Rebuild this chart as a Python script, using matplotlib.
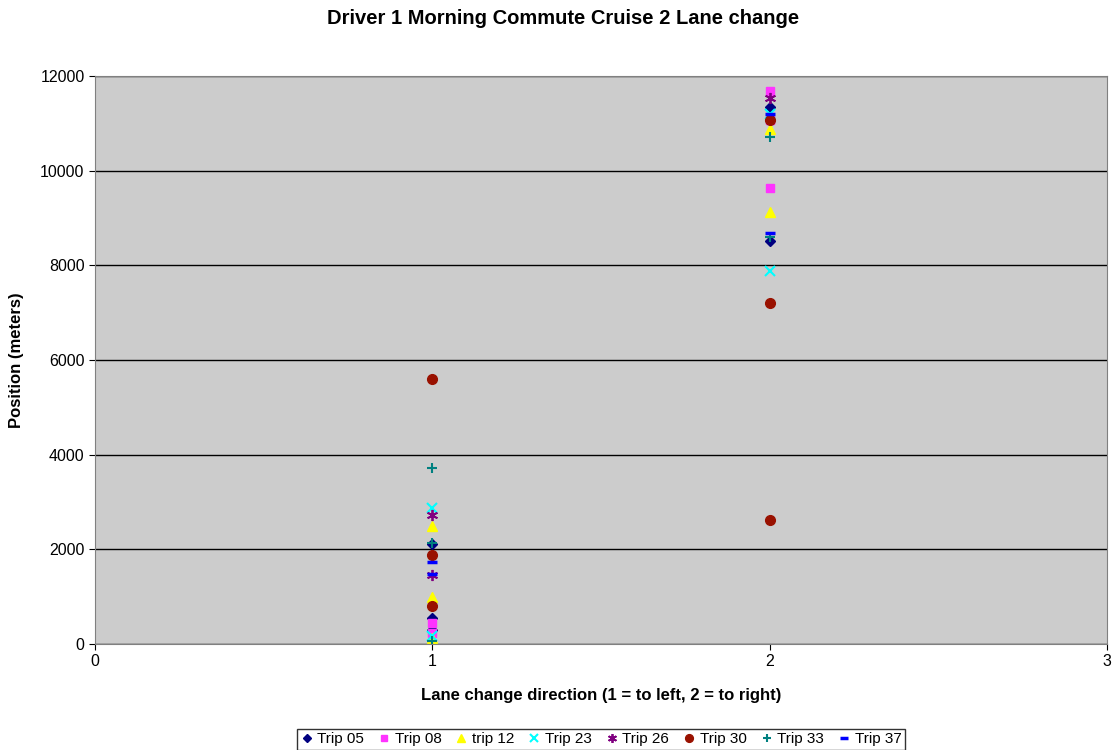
import matplotlib.pyplot as plt

plt.rcParams['font.family'] = ['Liberation Sans', 'DejaVu Sans']

# Dados (direção, posição em metros)
trip05_x = [1, 1, 1, 2, 2]
trip05_y = [2110, 540, 300, 11340, 8510]
trip08_x = [1, 1, 2, 2, 2]
trip08_y = [440, 240, 11680, 11080, 9630]
trip12_x = [1, 1, 1, 2, 2]
trip12_y = [2500, 1000, 130, 10870, 9130]
trip23_x = [1, 1, 2, 2]
trip23_y = [2870, 170, 11200, 7880]
trip26_x = [1, 1, 2]
trip26_y = [2720, 1460, 11540]
trip30_x = [1, 1, 1, 2, 2, 2]
trip30_y = [5600, 1880, 800, 11060, 7210, 2610]
trip33_x = [1, 1, 1, 2, 2]
trip33_y = [3710, 2130, 60, 10720, 8590]
trip37_x = [1, 1, 2, 2]
trip37_y = [1730, 1470, 11190, 8680]

series = [
    ('Trip 05', trip05_x, trip05_y, 'D', '#000080', 5, 1),
    ('Trip 08', trip08_x, trip08_y, 's', '#FF33FF', 6, 1),
    ('trip 12', trip12_x, trip12_y, '^', '#FFFF00', 7, 1),
    ('Trip 23', trip23_x, trip23_y, 'x', '#00FFFF', 7, 1.5),
    ('Trip 26', trip26_x, trip26_y, (6, 2, 0), '#800080', 8, 1.3),
    ('Trip 30', trip30_x, trip30_y, 'o', '#991100', 7, 1),
    ('Trip 33', trip33_x, trip33_y, '+', '#008080', 7, 1.5),
    ('Trip 37', trip37_x, trip37_y, '_', '#0000FF', 7, 2.5),
]

fig = plt.figure(figsize=(11.14, 7.5), dpi=100)
ax = fig.add_axes([0.0853, 0.1413, 0.9084, 0.7574])
ax.set_facecolor('#CCCCCC')

for nome, xs, ys, mk, cor, ms, mew in series:
    ax.plot(xs, ys, linestyle='none', marker=mk, color=cor, markersize=ms,
            markeredgewidth=mew, label=nome)

ax.set_xlim(0, 3)
ax.set_ylim(0, 12000)
ax.set_xticks([0, 1, 2, 3])
ax.set_yticks(range(0, 12001, 2000))
ax.yaxis.grid(True, color='black', linewidth=1)
ax.set_axisbelow(True)
for s in ax.spines.values():
    s.set_color('#808080')
ax.tick_params(labelsize=11.5, length=4, color='black')

fig.text(0.505, 0.976, 'Driver 1 Morning Commute Cruise 2 Lane change',
         fontsize=14.5, fontweight='bold', ha='center', va='center')
ax.set_xlabel('Lane change direction (1 = to left, 2 = to right)', fontsize=12,
              fontweight='bold')
ax.xaxis.set_label_coords(0.5, -0.077)
ax.set_ylabel('Position (meters)', fontsize=12, fontweight='bold')
ax.yaxis.set_label_coords(-0.070, 0.5)

leg = ax.legend(loc='lower center', bbox_to_anchor=(0.5, -0.2005), ncol=8,
                fontsize=11, frameon=True, fancybox=False, handlelength=0.8,
                handletextpad=0.3, columnspacing=0.9, borderpad=0.25,
                markerscale=0.8)
leg.get_frame().set_edgecolor('black')
leg.get_frame().set_linewidth(1)

plt.savefig('out.png', dpi=100)
